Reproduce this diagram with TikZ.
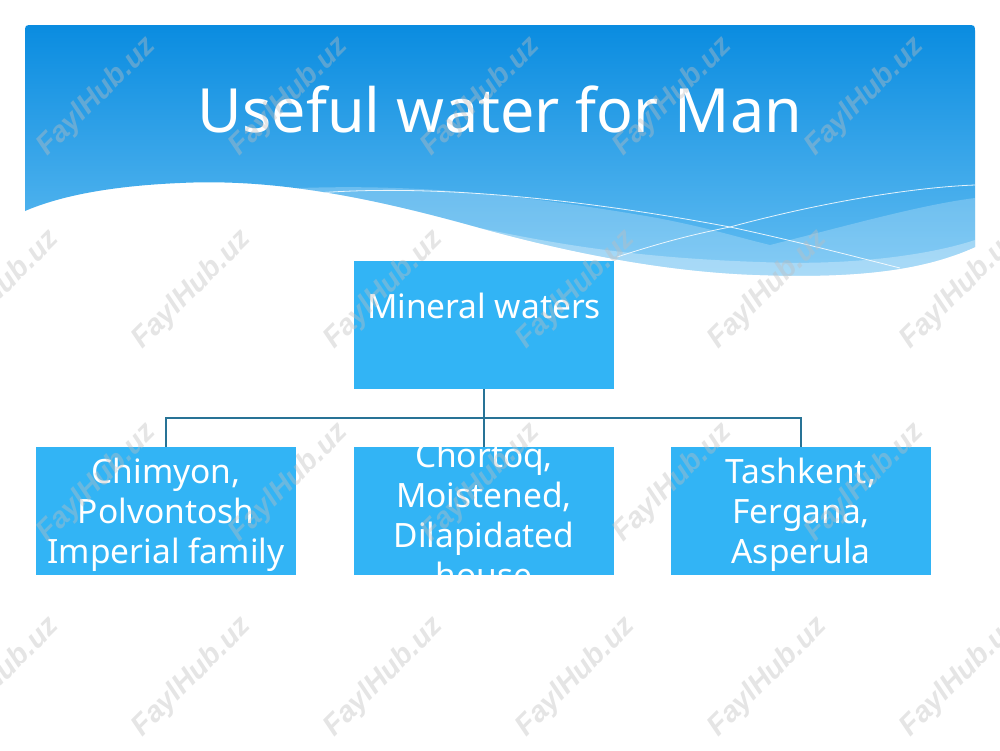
\documentclass[tikz,border=0pt]{standalone}
\usepackage{fontspec}
\setmainfont{Noto Sans}
\newfontfamily\wmfont{Liberation Sans}
\definecolor{bannertop}{RGB}{10,140,224}
\definecolor{bannerbot}{RGB}{100,190,242}
\definecolor{boxblue}{RGB}{50,180,245}
\definecolor{linkcol}{RGB}{40,115,150}
\definecolor{wmgray}{RGB}{190,190,190}
\begin{document}
\begin{tikzpicture}[x=1pt,y=-1pt,
  box/.style={fill=boxblue, draw=none, minimum width=260pt, minimum height=128pt, inner sep=0pt},
  boxtext/.style={text=white, align=center, inner sep=0pt, font=\fontsize{33.5}{40}\selectfont},
  link/.style={draw=linkcol, line width=1.4pt},
  wave/.style={white, line width=0.8pt, opacity=0.85},
  wm/.style={font=\wmfont\bfseries\itshape\fontsize{29}{29}\selectfont, text=wmgray, opacity=0.4, rotate=45}]
\useasboundingbox (0,0) rectangle (1000,750);
\fill[white] (0,0) rectangle (1000,750);
% banner
\begin{scope}
\clip (25,211) -- (25,33) .. controls (25,25) .. (33,25) -- (967,25) .. controls (975,25) .. (975,33) -- (975,247)
  .. controls (920,272) and (850,278) .. (760,275)
  .. controls (660,272) and (560,250) .. (480,228)
  .. controls (380,200) and (280,178) .. (180,183)
  .. controls (110,186) and (60,196) .. (25,211) -- cycle;
\shade[top color=bannertop, bottom color=bannerbot] (25,25) rectangle (975,280);
\fill[white, opacity=0.22] (300,188) .. controls (420,184) and (520,195) .. (640,215)
  .. controls (700,225) and (740,238) .. (770,245)
  .. controls (850,225) and (920,205) .. (975,198) -- (975,300) -- (300,300) -- cycle;
\fill[white, opacity=0.3] (480,228) .. controls (560,245) and (640,258) .. (760,262)
  .. controls (850,266) and (930,255) .. (975,240) -- (975,300) -- (480,300) -- cycle;
\draw[wave] (317,193) .. controls (420,185) and (560,195) .. (730,227) .. controls (800,242) and (860,258) .. (900,268);
\draw[wave] (617,257) .. controls (660,243) and (690,235) .. (730,227) .. controls (830,200) and (920,187) .. (975,185);
\end{scope}
\node[text=white, font=\fontsize{61}{61}\selectfont, anchor=base] (title) at (500,132) {Useful water for Man};
% chart
\node[box] (top) at (484,325) {};
\node[box] (c1) at (166,511) {};
\node[box] (c2) at (484,511) {};
\node[box] (c3) at (801,511) {};
\node[boxtext, anchor=base] (ttop) at (484,318) {Mineral waters};
\node[boxtext] (t1) at (166,515) {Chimyon,\\ Polvontosh\\ Imperial family};
\node[boxtext] (t2) at (484,515) {Chortoq,\\ Moistened,\\ Dilapidated\\ house};
\node[boxtext] (t3) at (801,515) {Tashkent,\\ Fergana,\\ Asperula};
\coordinate (j) at (484,418);
\draw[link] (top.south) -- (c2.north);
\draw[link] (c1.north) |- (j) -| (c3.north);
% watermarks
\foreach \y in {97,483} {
  \foreach \x in {97,289,481,673,865} {
    \node[wm] (wa-\x-\y) at (\x,\y) {FaylHub.uz};
  }
}
\foreach \y in {290,677} {
  \foreach \x in {0,192,384,576,768,960} {
    \node[wm] (wb-\x-\y) at (\x,\y) {FaylHub.uz};
  }
}
\end{tikzpicture}
\end{document}
